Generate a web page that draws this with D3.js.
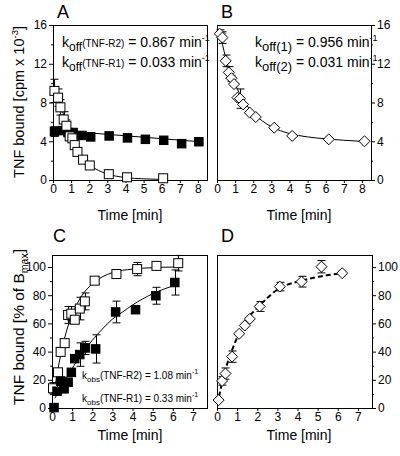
<!DOCTYPE html>
<html><head><meta charset="utf-8">
<script src="https://cdn.jsdelivr.net/npm/d3@7"></script>
<style>
body{margin:0;background:#fff;}
svg{display:block;font-family:"Liberation Sans",Arial,sans-serif;}
</style></head>
<body>
<svg id="c" width="400" height="456"></svg>
<script>
// ---------- Panel A data (TNF bound, cpm x 10^-3) ----------
const aT_R2 = [0.08,0.28,0.41,0.59,0.74,0.92,1.07,1.2,1.35,1.66,2.03,3.08,4.09,6.08];
const aV_R2 = [9.2,8.5,7.5,6.25,5.6,4.5,4.3,3.6,2.9,2.1,1.5,0.6,0.28,0.18];
const aE_R2 = [1.2,0.9,0.8,0.8,0.6,0.3,0,0,0,0,0,0,0,0];
const aT_R1 = [0.08,0.52,0.83,1.11,1.6,2.08,3.1,4.11,5.1,6.11,7.1,8.05];
const aV_R1 = [5.0,5.1,4.9,4.9,4.6,4.45,4.55,4.35,4.2,4.1,3.75,3.95];
const aE_R1 = [0.5,0.3,0.2,0,0,0,0,0,0,0,0,0];
const aFitT_R2 = [0.08,0.3,0.5,0.75,1,1.25,1.5,2,2.5,3,4,5,6.1];
const aFitV_R2 = [9.4,8.3,7.2,5.9,4.7,3.7,2.8,1.6,1.0,0.62,0.25,0.12,0.05];
const aFitT_R1 = [0.08,8.1];
const aFitV_R1 = [5.15,3.95];
// ---------- Panel B data ----------
const bT = [0.15,0.3,0.48,0.65,0.8,0.94,1.13,1.27,1.44,1.81,2.14,3.16,4.15,6.17,8.14];
const bV = [15.1,14.7,12.3,11.1,10.5,9.9,8.5,8.4,7.8,6.95,6.5,5.4,4.55,4.2,4.0];
const bE = [0.4,0.6,0.6,0.6,0.3,0,0,1.0,0,0,0,0,0,0,0];
const bFitT = [0.1,0.3,0.5,0.75,1,1.25,1.5,2,2.5,3,4,5,6,7,8.1];
const bFitV = [15.6,14.0,12.5,11.0,9.9,8.9,8.1,6.9,6.1,5.5,4.8,4.45,4.25,4.1,3.98];
// ---------- Panel C data (% of Bmax) ----------
const cT_R2 = [0.05,0.3,0.43,0.63,0.8,0.96,1.13,1.38,1.63,2.12,3.2,4.23,5.19,6.27];
const cV_R2 = [14,25.3,39.8,46,66,66.9,62.6,70.5,75.6,90.3,95,98.5,100.8,102.7];
const cE_R2 = [4,0,0,0,6,5,0,8,6,2,3,4.7,0,5.5];
const cT_R1 = [0.1,0.25,0.43,0.6,0.8,0.96,1.13,1.38,1.66,2.17,3.16,4.15,5.16,6.1];
const cV_R1 = [0.3,11.9,19,13.6,18.3,25.3,35,37.9,42.6,41.9,68.1,69.7,79.6,89];
const cE_R1 = [0,0,3,0,0,0,0,8.3,4.7,10,7.7,0,6,8.9];
const cFitT_R2 = [0.1,0.3,0.5,0.75,1,1.25,1.5,2,2.5,3,4,5,6.1];
const cFitV_R2 = [10,28,42,56,66,74,80,88,93,96,98.5,99.5,100];
const cFitT_R1 = [0.15,0.5,1,1.5,2,2.5,3,3.5,4,5,6.1];
const cFitV_R1 = [7,16,28,39,48,56,63,68,73,81,87];
// ---------- Panel D data ----------
const dT = [0.08,0.25,0.42,0.75,1.1,1.38,1.63,2.12,3.12,4.2,5.19,6.22];
const dV = [5.6,19.2,24.4,36.4,52.6,58.5,63.2,72,86.1,89.6,100.2,95.6];
const dE = [0,3,4,4,0,0,0,3.5,3,3.8,4.4,0];
const dFitT = [0.1,0.25,0.5,0.75,1,1.25,1.5,2,2.5,3,3.5,4,5,6.2];
const dFitV = [8,18,31,41,50,57,63,71,78,84,87.5,89.5,93,95.5];
// ---------- Ticks ----------
const xTicksAB = [0,1,2,3,4,5,6,7,8];
const xTicksCD = [0,1,2,3,4,5,6,7];
const yTicksAB = [0,4,8,12,16];
const yMinorAB = [2,6,10,14];
const yTicksCD = [0,20,40,60,80,100];
const yMinorCD = [10,30,50,70,90];

const svg = d3.select("#c");
const FONT = '"Liberation Sans",Arial,sans-serif';

function panel(cfg){
  const x = d3.scaleLinear().domain(cfg.xd).range(cfg.xr);
  const y = d3.scaleLinear().domain(cfg.yd).range(cfg.yr);
  const g = svg.append("g");
  g.append("rect").attr("x",cfg.xr[0]+0.5).attr("y",cfg.yr[1]+0.5)
    .attr("width",cfg.xr[1]-cfg.xr[0]).attr("height",cfg.yr[0]-cfg.yr[1])
    .attr("fill","none").attr("stroke","#000").attr("stroke-width",1);
  const bx = g.append("g").attr("transform",`translate(0,${cfg.yr[0]})`)
    .call(d3.axisBottom(x).tickValues(cfg.xticks).tickSize(3).tickPadding(1));
  bx.select(".domain").remove();
  bx.selectAll("text").attr("font-size",12).attr("font-family",FONT).attr("fill","#000");
  const side = cfg.right ? d3.axisRight : d3.axisLeft;
  const yx = cfg.right ? cfg.xr[1] : cfg.xr[0];
  const ya = g.append("g").attr("transform",`translate(${yx},0)`)
    .call(side(y).tickValues(cfg.yticks).tickSize(4).tickPadding(2));
  ya.select(".domain").remove();
  ya.selectAll("text").attr("font-size",12).attr("font-family",FONT).attr("fill","#000");
  const ym = g.append("g").attr("transform",`translate(${yx},0)`)
    .call(side(y).tickValues(cfg.yminor).tickSize(2).tickFormat(""));
  ym.select(".domain").remove();
  return {g,x,y};
}

function fitLine(p, T, V, dashed, width){
  p.g.append("path").datum(T.map((t,i)=>[t,V[i]]))
    .attr("d", d3.line().x(d=>p.x(d[0])).y(d=>p.y(d[1])).curve(d3.curveMonotoneX))
    .attr("fill","none").attr("stroke","#000")
    .attr("stroke-width",width||1)
    .attr("stroke-dasharray",dashed?"5,3":null);
}
function errBars(p, T, V, E){
  const d = T.map((t,i)=>({t,v:V[i],e:E[i]})).filter(d=>d.e>0);
  const gg = p.g.append("g").attr("stroke","#000").attr("stroke-width",1);
  d.forEach(o=>{
    const cx = Math.round(p.x(o.t))+0.5;
    gg.append("line").attr("x1",cx).attr("x2",cx).attr("y1",p.y(o.v-o.e)).attr("y2",p.y(o.v+o.e));
    [o.v-o.e,o.v+o.e].forEach(v=>{
      gg.append("line").attr("x1",cx-4).attr("x2",cx+4).attr("y1",p.y(v)).attr("y2",p.y(v));
    });
  });
}
function squares(p, T, V, filled){
  const s = filled ? 8.5 : 9;
  p.g.append("g").selectAll("rect").data(T.map((t,i)=>[t,V[i]])).join("rect")
    .attr("x",d=>p.x(d[0])-s/2).attr("y",d=>p.y(d[1])-s/2)
    .attr("width",s).attr("height",s)
    .attr("fill",filled?"#000":"#fff").attr("stroke","#000").attr("stroke-width",1);
}
function diamonds(p, T, V){
  const r = 5.5;
  p.g.append("g").selectAll("path").data(T.map((t,i)=>[t,V[i]])).join("path")
    .attr("d",d=>{const cx=p.x(d[0]),cy=p.y(d[1]);return `M${cx},${cy-r}L${cx+r},${cy}L${cx},${cy+r}L${cx-r},${cy}Z`;})
    .attr("fill","#fff").attr("stroke","#000").attr("stroke-width",1);
}

// ---------- Panel A ----------
const A = panel({xd:[0,8.5],xr:[53,207],yd:[0,16],yr:[180,25],xticks:xTicksAB,yticks:yTicksAB,yminor:yMinorAB,right:false});
fitLine(A,aFitT_R1,aFitV_R1);
fitLine(A,aFitT_R2,aFitV_R2);
errBars(A,aT_R2,aV_R2,aE_R2);
errBars(A,aT_R1,aV_R1,aE_R1);
squares(A,aT_R1,aV_R1,true);
squares(A,aT_R2,aV_R2,false);

// ---------- Panel B ----------
const B = panel({xd:[0,8.5],xr:[217,371],yd:[0,16],yr:[180,25],xticks:xTicksAB,yticks:yTicksAB,yminor:yMinorAB,right:true});
fitLine(B,bFitT,bFitV);
errBars(B,bT,bV,bE);
diamonds(B,bT,bV);

// ---------- Panel C ----------
const C = panel({xd:[0,7.7],xr:[52,207],yd:[0,108.5],yr:[408,255],xticks:xTicksCD,yticks:yTicksCD,yminor:yMinorCD,right:false});
fitLine(C,cFitT_R2,cFitV_R2);
fitLine(C,cFitT_R1,cFitV_R1);
errBars(C,cT_R2,cV_R2,cE_R2);
errBars(C,cT_R1,cV_R1,cE_R1);
squares(C,cT_R2,cV_R2,false);
squares(C,cT_R1,cV_R1,true);

// ---------- Panel D ----------
const D = panel({xd:[0,7.7],xr:[217,372],yd:[0,108.5],yr:[408,255],xticks:xTicksCD,yticks:yTicksCD,yminor:yMinorCD,right:true});
fitLine(D,dFitT,dFitV,true,2);
errBars(D,dT,dV,dE);
diamonds(D,dT,dV);

// ---------- Text ----------
const T = svg.append("g").attr("fill","#000").attr("font-family",FONT);
[["A",57,18],["B",221,18],["C",53,242],["D",221,242]].forEach(([s,x,y])=>
  T.append("text").attr("x",x).attr("y",y).attr("font-size",18).text(s));
[[130,220],[299,220],[130,440],[299,440]].forEach(([x,y])=>
  T.append("text").attr("x",x).attr("y",y).attr("text-anchor","middle").attr("font-size",14).text("Time [min]"));

const yl1 = T.append("text").attr("transform","translate(24,102) rotate(-90)").attr("text-anchor","middle").attr("font-size",14.5);
yl1.append("tspan").text("TNF bound [cpm x 10");
yl1.append("tspan").attr("font-size",9.5).attr("dy",-6).text("-3");
yl1.append("tspan").attr("dy",6).text("]");
const yl2 = T.append("text").attr("transform","translate(24,327) rotate(-90)").attr("text-anchor","middle").attr("font-size",15.5);
yl2.append("tspan").text("TNF bound [% of B");
yl2.append("tspan").attr("font-size",10.5).attr("dy",4).text("max");
yl2.append("tspan").attr("dy",-4).text("]");

function kA(y, lbl, val){
  const t = T.append("text").attr("x",62).attr("y",y).attr("font-size",14);
  t.append("tspan").text("k");
  t.append("tspan").attr("font-size",12).attr("dy",4).text("off");
  t.append("tspan").attr("font-size",10).attr("dy",-4).text(lbl);
  t.append("tspan").text(" = "+val+" min");
  t.append("tspan").attr("font-size",9).attr("dy",-6).text("-1");
}
kA(47,"(TNF-R2)","0.867");
kA(67,"(TNF-R1)","0.033");
function kB(y, lbl, val){
  const t = T.append("text").attr("x",255).attr("y",y).attr("font-size",14);
  t.append("tspan").text("k");
  t.append("tspan").attr("font-size",13).attr("dy",4).text("off"+lbl);
  t.append("tspan").attr("dy",-4).text(" = "+val+" min");
  t.append("tspan").attr("font-size",9).attr("dy",-6).text("-1");
}
kB(47,"(1)","0.956");
kB(67,"(2)","0.031");
function kC(y, lbl, val){
  const t = T.append("text").attr("x",82).attr("y",y).attr("font-size",10);
  t.append("tspan").text("k");
  t.append("tspan").attr("font-size",8).attr("dy",3).text("obs");
  t.append("tspan").attr("dy",-3).text(lbl+" = "+val+" min");
  t.append("tspan").attr("font-size",7).attr("dy",-5).text("-1");
}
kC(379,"(TNF-R2)","1.08");
kC(402,"(TNF-R1)","0.33");
</script>
</body></html>
